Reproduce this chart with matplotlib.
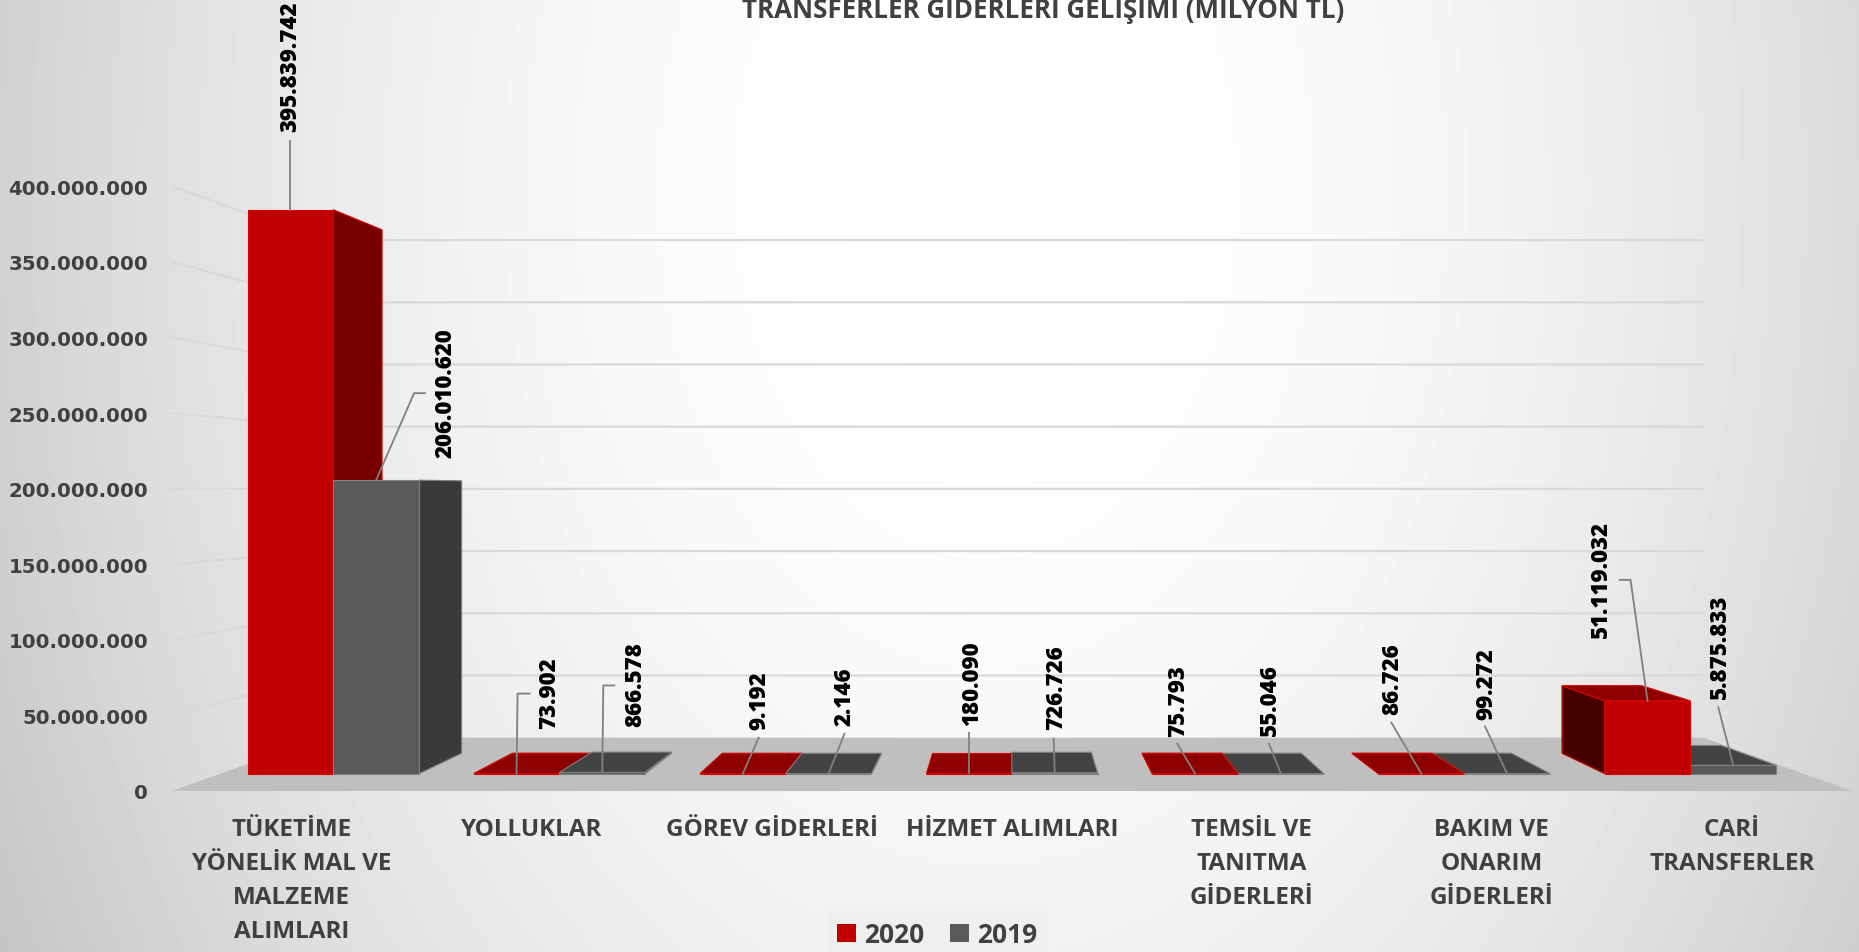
import numpy as np
import matplotlib.pyplot as plt
from matplotlib.patches import Patch, Polygon
from matplotlib.ticker import FuncFormatter

plt.rcParams['font.family'] = ['Open Sans', 'DejaVu Sans']

# data
categories = ['TÜKETİME\nYÖNELİK MAL VE\nMALZEME\nALIMLARI', 'YOLLUKLAR', 'GÖREV GİDERLERİ',
              'HİZMET ALIMLARI', 'TEMSİL VE\nTANITMA\nGİDERLERİ', 'BAKIM VE\nONARIM\nGİDERLERİ',
              'CARİ\nTRANSFERLER']
y2020 = [395839742, 73902, 9192, 180090, 75793, 86726, 51119032]
y2019 = [206010620, 866578, 2146, 726726, 55046, 99272, 5875833]
series = ['2020', '2019']
yticks = np.arange(0, 400000001, 50000000)
title = 'TRANSFERLER GIDERLERI GELIŞIMI (MILYON TL)'

# data label placement, pixels from the bar's front-top centre: text (dx, dy), leader points
lab2020 = [((0, 79), [(0, 69)]),
           ((33, 46), [(1, 80), (13, 80)]),
           ((17, 45), [(16, 36)]),
           ((3, 48), [(0, 40)]),
           ((-17, 38), [(-18, 30)]),
           ((-29, 60), [(-30, 51)]),
           ((-47, 64), [(-17, 121), (-28, 121)])]
lab2019 = [((69, 23), [(38, 87), (49, 87)]),
           ((33, 46), [(1, 87), (12, 87)]),
           ((16, 49), [(16, 40)]),
           ((1, 44), [(-1, 34)]),
           ((-11, 39), [(-12, 30)]),
           ((-21, 55), [(-22, 47)]),
           ((-13, 67), [(-15, 58)])]

# fake perspective (vanishing point + depth scales)
VPX, VPY = 3.0, 199.2e6
S_FRONT, S_BACK, S_WALL = 0.9425, 0.8747, 0.823
BAR_W = 0.379

col_front = {'2020': '#C00000', '2019': '#595959'}
col_top = {'2020': '#8E0000', '2019': '#434343'}
col_rside = {'2020': '#780000', '2019': '#3A3A3A'}
col_lside = {'2020': '#460000', '2019': '#333333'}
col_edge = {'2020': '#D80000', '2019': '#7F7F7F'}


def proj(x, v, s):
    return (VPX + s * (x - VPX), VPY + s * (v - VPY))


def fmt(v):
    return f'{int(v):,}'.replace(',', '.')


W, H = 1859, 953
fig = plt.figure(figsize=(W / 100, H / 100), dpi=100)

# background radial gradient
bg = fig.add_axes([0, 0, 1, 1])
yy, xx = np.mgrid[0:H, 0:W]
r2 = ((xx - 0.53 * W) / (0.56 * W)) ** 2 + ((yy - 0.2 * H) / (1.6 * H)) ** 2
g = 1 - 0.2 * np.clip(r2, 0, 1.4)
bg.imshow(g, cmap='gray', vmin=0, vmax=1, aspect='auto')
bg.axis('off')

ax = fig.add_axes([0, 0, 1, 1])
ax.set_facecolor('none')
ax.set_xlim(-1.216, 6.530)
ax.set_ylim(-106.5e6, 523.9e6)

# gridlines: left wall + back wall
for v in yticks[1:]:
    p0 = proj(-0.5, v, 1)
    p1 = proj(-0.5, v, S_WALL)
    p2 = proj(6.5, v, S_WALL)
    ax.plot([p0[0], p1[0], p2[0]], [p0[1], p1[1], p2[1]], color='#D9D9D9', lw=1.6, zorder=1)

# floor
floor = [proj(-0.5, 0, 1), proj(6.5, 0, 1), proj(6.5, 0, S_WALL), proj(-0.5, 0, S_WALL)]
ax.add_patch(Polygon(floor, closed=True, fc='#BFBFBF', ec='none', zorder=2))

# bars, drawn from outside in towards the vanishing point
bars = []
for i in range(len(categories)):
    bars.append((i - BAR_W, y2020[i], '2020'))
    bars.append((i, y2019[i], '2019'))
bars.sort(key=lambda b: -abs(b[0] + BAR_W / 2 - VPX))

for x0, v, s in bars:
    x1 = x0 + BAR_W
    xs = x1 if x0 + BAR_W / 2 < VPX else x0
    side = [proj(xs, 0, S_FRONT), proj(xs, v, S_FRONT), proj(xs, v, S_BACK), proj(xs, 0, S_BACK)]
    sc = col_rside[s] if xs == x1 else col_lside[s]
    ax.add_patch(Polygon(side, closed=True, fc=sc, ec=col_edge[s], lw=0.8, zorder=3))
    if v < VPY:
        top = [proj(x0, v, S_FRONT), proj(x1, v, S_FRONT), proj(x1, v, S_BACK), proj(x0, v, S_BACK)]
        ax.add_patch(Polygon(top, closed=True, fc=col_top[s], ec=col_edge[s], lw=0.8, zorder=3))
    fx0, fy0 = proj(x0, 0, S_FRONT)
    fx1, fy1 = proj(x1, v, S_FRONT)
    ax.bar(fx0, fy1 - fy0, width=fx1 - fx0, bottom=fy0, align='edge',
           color=col_front[s], edgecolor=col_edge[s], lw=0.8, zorder=3)

# data labels with leader lines
to_data = ax.transData.inverted()
for vals, labs, off in [(y2020, lab2020, -BAR_W / 2), (y2019, lab2019, BAR_W / 2)]:
    for i, v in enumerate(vals):
        a = np.array(ax.transData.transform(proj(i + off, v, S_FRONT)))
        (tdx, tdy), lead = labs[i]
        pts = to_data.transform(np.vstack([a] + [a + np.array(p) for p in lead]))
        ax.plot(pts[:, 0], pts[:, 1], color='#808080', lw=1.3, zorder=4)
        tx, ty = to_data.transform(a + np.array([tdx, tdy]))
        ax.text(tx, ty, fmt(v), rotation=90, ha='center', va='bottom',
                fontsize=16, fontweight=800, color='black', zorder=5)

# axes: y labels on the front-left edge, categories under the floor
for sp in ax.spines.values():
    sp.set_visible(False)
ax.spines['left'].set_position(('data', -0.5))
ax.spines['bottom'].set_position(('data', 0))
ax.set_yticks(yticks)
ax.yaxis.set_major_formatter(FuncFormatter(lambda v, p: fmt(v)))
ax.tick_params(axis='y', length=0, pad=17, labelsize=14.2, labelcolor='#404040')
plt.setp(ax.get_yticklabels(), family='DejaVu Sans', fontweight='bold')
ax.set_xticks(range(len(categories)), categories)
ax.tick_params(axis='x', length=0, pad=18.5, labelsize=17.5, labelcolor='#404040')
plt.setp(ax.get_xticklabels(), fontweight='bold', linespacing=1.57)

fig.text(0.561, 1 - 18 / H, title, ha='center', va='baseline',
         fontsize=18.6, fontweight='bold', color='#404040')

handles = [Patch(facecolor=col_front[s], edgecolor='none') for s in series]
leg = fig.legend(handles, series, loc='center', bbox_to_anchor=(0.504, 0.018), ncol=2,
                 frameon=True, fancybox=False, facecolor='#EFEFEF', edgecolor='none',
                 framealpha=1, prop={'size': 19, 'weight': 'bold'},
                 handlelength=0.7, handleheight=0.7, handletextpad=0.3, columnspacing=1.0)
for t in leg.get_texts():
    t.set_color('#404040')

fig.savefig('out.png', dpi=100)
